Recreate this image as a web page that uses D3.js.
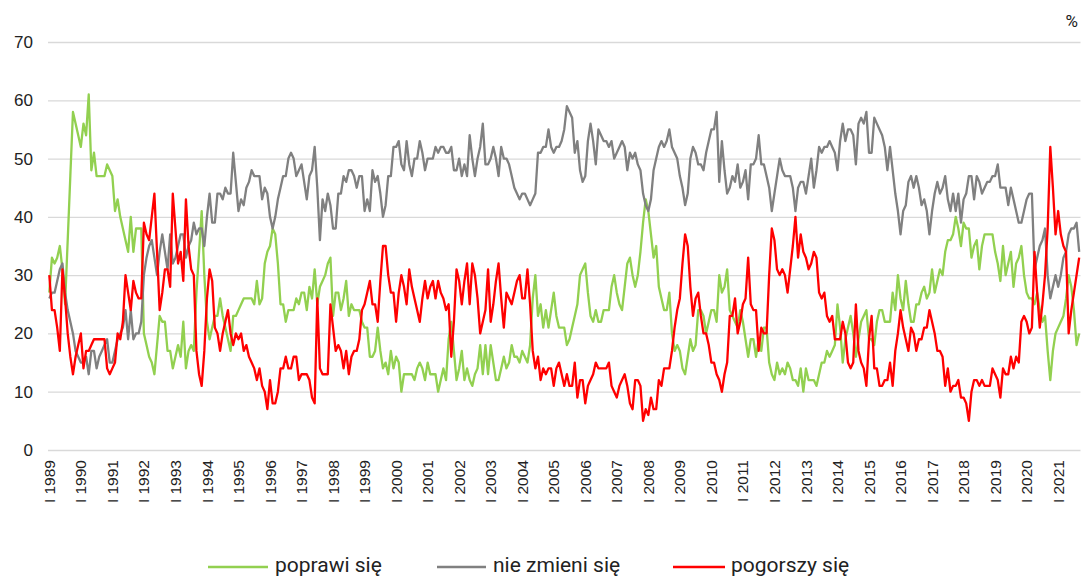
<!DOCTYPE html>
<html>
<head>
<meta charset="utf-8">
<script src="https://cdn.jsdelivr.net/npm/d3@7"></script>
<style>
  html, body { margin: 0; padding: 0; background: #fff; }
  svg { display: block; font-family: Roboto, "Liberation Sans", sans-serif; }
</style>
</head>
<body>
<svg id="chart" width="1081" height="577"></svg>
<script>
// ---- data ----
const months = ["I","II","III","IV","V","VI","VII","VIII","IX","X","XI","XII"];
const years = [1989,1990,1991,1992,1993,1994,1995,1996,1997,1998,1999,2000,2001,2002,2003,2004,
               2005,2006,2007,2008,2009,2010,2011,2012,2013,2014,2015,2016,2017,2018,2019,2020,2021];
const yTicks = [0,10,20,30,40,50,60,70];
const seriesNames = ["poprawi się","nie zmieni się","pogorszy się"];

const poprawi = [
27,33,32,33,35,31,25,36,47,58,56,54,
52,56,54,61,48,51,47,47,47,47,49,48,
47,41,43,40,38,36,34,40,34,38,38,38,
20,18,16,15,13,18,23,22,22,17,17,14,
16,18,16,22,14,17,18,17,27,34,41,30,
22,19,21,23,23,26,23,21,19,17,23,23,
24,25,26,26,26,26,25,29,25,26,32,34,35,
38,37,32,25,25,22,24,24,24,26,25,27,
27,24,28,26,31,25,28,29,30,32,33,23,
27,27,24,26,29,23,25,24,24,24,22,21,
21,16,16,17,21,17,14,15,13,17,14,16,
15,10,13,13,13,13,12,14,15,14,12,15,
13,13,13,10,12,14,12,19,22,17,12,14,
17,12,14,12,11,13,14,18,13,18,13,18,
15,12,12,14,16,14,15,18,16,16,15,17,
16,15,18,26,30,23,25,21,24,21,24,27,
23,21,21,21,18,19,21,23,25,30,31,32,
27,23,22,24,22,22,24,24,24,28,30,27,25,
24,28,32,33,30,28,30,34,39,43,41,37,
33,35,28,26,24,24,27,20,17,18,17,14,
13,16,19,17,18,24,24,23,20,22,24,24,
22,30,27,28,31,24,23,22,21,24,22,19,
16,19,19,16,19,17,21,21,15,13,12,15,
13,14,13,15,14,12,12,11,14,10,14,12,
12,12,11,13,15,15,17,16,17,18,25,21,
15,19,21,23,20,16,19,22,23,24,19,19,
18,22,24,24,22,22,22,27,24,30,26,24,
29,25,22,22,25,25,27,28,26,27,31,27,
29,31,30,34,36,36,37,40,38,35,39,38,
38,33,35,36,31,35,37,37,37,37,34,32,29,
35,30,32,34,28,32,33,35,30,27,26,26,
25,27,24,22,23,17,12,17,20,21,22,23,
26,30,28,24,18,20
];

const nieZmieni = [
26,27,27,29,31,32,27,24,22,20,17,16,
15,15,16,13,17,17,14,16,17,18,19,15,
15,17,19,20,21,24,19,24,19,20,20,22,
30,33,35,36,33,30,34,37,34,31,37,32,
33,35,37,37,33,35,36,39,37,38,38,35,
40,44,39,39,44,44,43,45,44,44,51,46,
41,43,42,45,46,48,47,47,47,43,45,44,40,
38,40,43,45,47,47,50,51,50,47,48,49,
46,43,47,48,52,45,36,43,41,44,42,38,
38,44,44,47,46,48,48,47,45,47,47,41,
43,41,48,46,47,44,40,42,47,47,52,52,
53,49,48,53,49,47,50,50,53,51,48,50,
50,50,52,51,52,52,51,51,52,48,48,50,
47,49,47,54,50,47,50,52,56,49,49,50,
52,50,47,52,50,50,49,47,45,44,43,44,
44,43,42,43,44,51,51,52,52,55,52,51,
52,52,53,55,59,58,57,51,53,48,46,47,
53,56,53,49,55,54,53,53,52,53,50,51,52,
53,52,48,51,50,51,49,48,44,42,41,43,
48,50,52,53,52,53,55,52,51,50,47,45,
42,44,50,52,51,49,49,48,51,53,55,55,
58,46,53,48,44,45,47,46,49,45,46,48,
43,49,49,50,54,49,49,47,45,41,44,47,
50,48,47,47,47,45,41,45,46,46,44,47,
50,45,48,52,51,52,52,53,52,51,48,53,
56,53,55,55,54,49,56,57,56,58,51,51,
57,56,55,54,52,48,52,48,44,41,37,41,
42,46,47,45,47,45,42,43,41,37,41,44,
46,44,45,47,43,41,44,41,44,39,43,44,
47,47,43,47,46,44,45,46,46,47,47,49,45,
45,45,42,45,43,41,39,39,41,43,44,44,
31,33,35,36,38,30,26,28,30,28,30,33,
34,37,38,38,39,34
];

const pogorszy = [
30,24,24,21,17,31,26,20,16,13,16,18,
20,14,17,17,18,19,19,19,19,19,14,13,
14,15,20,19,22,30,27,24,29,27,26,26,
39,37,36,40,44,34,24,27,31,31,28,44,
38,32,34,29,43,35,31,30,17,13,11,17,
26,31,29,21,20,17,20,22,24,20,18,20,
19,20,17,18,16,15,14,12,14,11,10,7,12,
8,8,10,14,14,16,14,14,16,16,12,13,
13,13,12,9,8,26,14,13,13,13,25,21,
17,18,17,14,17,13,16,17,17,19,24,25,
27,29,25,25,22,29,35,35,30,27,27,22,
27,30,28,25,31,28,26,24,22,26,29,26,
28,29,26,29,27,26,24,25,16,22,31,29,
25,29,32,25,32,30,26,20,22,24,31,22,
25,29,32,26,21,27,26,25,27,29,30,26,
26,31,25,17,14,16,12,14,13,14,14,11,
14,15,13,11,13,11,11,15,9,12,12,8,
11,12,13,15,14,14,14,14,15,11,10,9,11,
12,13,11,8,7,12,12,11,5,7,6,9,
7,7,12,11,14,14,14,17,21,24,26,32,
37,35,28,23,26,27,23,20,20,18,15,15,
13,12,10,13,15,23,23,26,20,22,25,26,
33,25,24,24,17,21,20,20,30,38,36,31,
30,31,30,27,31,35,40,33,37,34,33,31,
32,34,33,27,26,27,23,22,23,19,19,19,
22,20,15,14,15,25,17,15,14,11,19,23,
14,14,11,11,12,12,15,11,17,20,24,21,
19,17,21,20,17,19,19,21,21,24,22,20,
17,17,16,11,14,10,11,11,12,9,9,8,
5,10,12,12,11,12,11,11,11,14,13,12,9,
14,13,13,16,14,16,15,22,23,22,20,21,
34,27,21,25,30,38,52,45,37,41,37,35,
34,20,24,27,30,33
];

// month categories (Jan 1989 .. Sep 2021)
const allMonths = [];
years.forEach(yr => months.forEach(m => allMonths.push(m + " " + yr)));
const categories = allMonths.slice(0, poprawi.length);
const tickLabels = categories.filter(c => c.split(" ")[0] === "I");

const colors = ["#92D050", "#808080", "#FF0000"];
const series = [poprawi, nieZmieni, pogorszy];

// ---- chart ----
const svg = d3.select("#chart");
const plotL = 48, plotR = 1080.5, plotT = 42, plotB = 450;

const x = d3.scaleBand().domain(categories).range([plotL, plotR]).paddingInner(0).paddingOuter(0);
const y = d3.scaleLinear().domain([0, 70]).range([plotB, plotT]);
const cx = c => x(c) + x.bandwidth() / 2;

// gridlines + y labels
const yAxis = svg.append("g")
  .attr("transform", `translate(${plotL},0)`)
  .call(d3.axisLeft(y).tickValues(yTicks).tickSize(-(plotR - plotL)).tickPadding(15).tickFormat(d3.format("d")));
yAxis.select(".domain").remove();
yAxis.selectAll(".tick line").attr("stroke", "#d9d9d9").attr("stroke-width", 1.3);
yAxis.selectAll(".tick text").attr("fill", "#222").style("font-size", "17px");

// x axis labels
const xAxis = svg.append("g")
  .attr("transform", `translate(0,${plotB})`)
  .call(d3.axisBottom(x).tickValues(tickLabels).tickSize(0));
xAxis.select(".domain").remove();
xAxis.selectAll(".tick text")
  .attr("transform", "rotate(-90)")
  .attr("text-anchor", "end")
  .attr("x", -10)
  .attr("y", 0)
  .attr("dy", "0.36em")
  .attr("fill", "#222")
  .style("font-size", "15.5px");

// lines
const line = d3.line()
  .x((d, i) => cx(categories[i]))
  .y(d => y(d));

series.forEach((s, k) => {
  svg.append("path")
    .datum(s)
    .attr("fill", "none")
    .attr("stroke", colors[k])
    .attr("stroke-width", 2.3)
    .attr("stroke-linejoin", "round")
    .attr("d", line);
});

// unit
svg.append("text")
  .attr("x", 1078).attr("y", 27)
  .attr("text-anchor", "end")
  .attr("fill", "#222")
  .style("font-size", "17px")
  .text("%");

// legend
const legendPos = [{lx: 208, lx2: 268, tx: 275}, {lx: 437, lx2: 486, tx: 493}, {lx: 673, lx2: 725, tx: 731}];
const legend = svg.append("g");
seriesNames.forEach((name, k) => {
  legend.append("line")
    .attr("x1", legendPos[k].lx).attr("x2", legendPos[k].lx2)
    .attr("y1", 567).attr("y2", 567)
    .attr("stroke", colors[k]).attr("stroke-width", 2.3);
  legend.append("text")
    .attr("x", legendPos[k].tx).attr("y", 572)
    .attr("fill", "#222")
    .style("font-size", "21px")
    .text(name);
});
</script>
</body>
</html>
